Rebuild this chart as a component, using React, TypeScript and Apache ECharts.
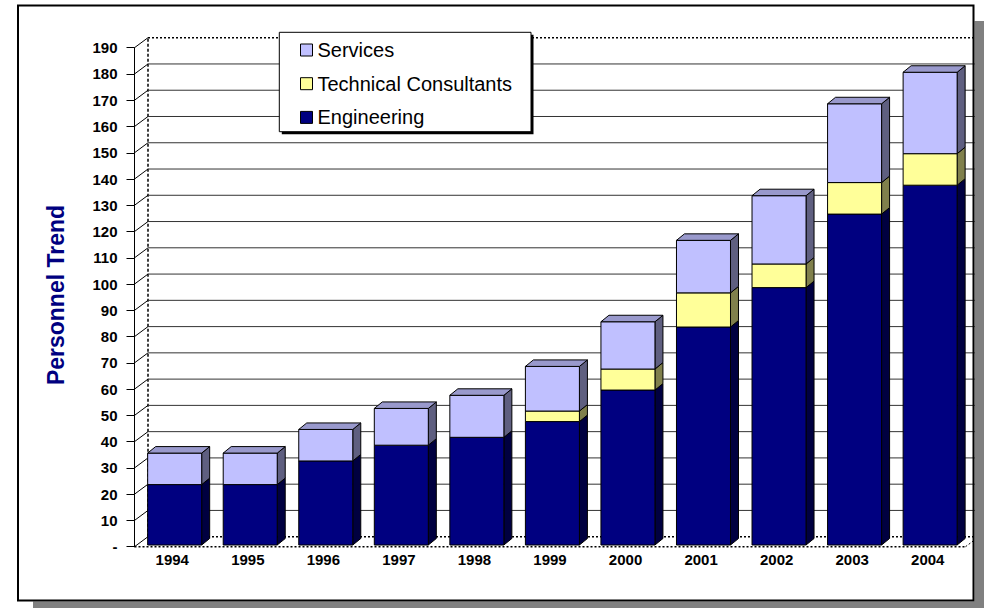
import { useEffect, useRef } from 'react';
import * as echarts from 'echarts';

// Headcount by year, stacked by staff group
const years = ['1994', '1995', '1996', '1997', '1998', '1999', '2000', '2001', '2002', '2003', '2004'];
const engineering = [23, 23, 32, 38, 41, 47, 59, 83, 98, 126, 137];
const technicalConsultants = [0, 0, 0, 0, 0, 4, 8, 13, 9, 12, 12];
const services = [12, 12, 12, 14, 16, 17, 18, 20, 26, 30, 31];
const yTicks = [0, 10, 20, 30, 40, 50, 60, 70, 80, 90, 100, 110, 120, 130, 140, 150, 160, 170, 180, 190];

const FONT = '"Liberation Sans", Arial, Helvetica, sans-serif';

// pseudo-3D geometry (pixels)
const WALL_DX = 13.5;
const WALL_DY = -10;
const FACE_DX = 2.4;
const FACE_DY = -1.7;
const BAR_DX = 8;
const BAR_DY = -6.5;
const BAR_RATIO = 0.715;

type Palette = { front: string; top: string; side: string };
const PAL_ENG: Palette = { front: '#000080', top: '#4D4D99', side: '#000040' };
const PAL_TECH: Palette = { front: '#FFFF99', top: '#C0C073', side: '#80804C' };
const PAL_SERV: Palette = { front: '#C0C0FF', top: '#9999CC', side: '#5F5F80' };

function segments(values: number[], bases: number[], isTop: boolean) {
  const out: number[][] = [];
  values.forEach((v, i) => {
    if (v > 0) out.push([i, bases[i], bases[i] + v, isTop ? 1 : 0]);
  });
  return out;
}

function barRenderer(pal: Palette) {
  return (params: any, api: any) => {
    const idx = api.value(0);
    const lo = api.value(1);
    const hi = api.value(2);
    const isTop = api.value(3) === 1;
    const pLo = api.coord([idx, lo]);
    const pHi = api.coord([idx, hi]);
    const half = (api.size([1, 0])[0] * BAR_RATIO) / 2;
    const cx = pLo[0] + FACE_DX;
    const xl = cx - half;
    const xr = cx + half;
    const yb = pLo[1] + FACE_DY;
    const yt = pHi[1] + FACE_DY;
    const stroke = { stroke: '#000', lineWidth: 1 };
    const children: any[] = [
      {
        type: 'polygon',
        shape: { points: [[xr, yb], [xr + BAR_DX, yb + BAR_DY], [xr + BAR_DX, yt + BAR_DY], [xr, yt]] },
        style: { fill: pal.side, ...stroke },
      },
      {
        type: 'rect',
        shape: { x: xl, y: yt, width: xr - xl, height: yb - yt },
        style: { fill: pal.front, ...stroke },
      },
    ];
    if (isTop) {
      children.push({
        type: 'polygon',
        shape: { points: [[xl, yt], [xl + BAR_DX, yt + BAR_DY], [xr + BAR_DX, yt + BAR_DY], [xr, yt]] },
        style: { fill: pal.top, ...stroke },
      });
    }
    return { type: 'group', children };
  };
}

function wallRenderer(params: any, api: any) {
  const v = api.value(1);
  const cs = params.coordSys;
  const x0 = cs.x;
  const x1 = cs.x + cs.width;
  const y = api.coord([0, v])[1];
  const yb = y + WALL_DY;
  const isEdge = v === yTicks[0] || v === yTicks[yTicks.length - 1];
  const children: any[] = [
    {
      type: 'line',
      shape: { x1: x0, y1: y, x2: x0 + WALL_DX, y2: yb },
      style: { stroke: '#000', lineWidth: 1 },
    },
    {
      type: 'line',
      shape: { x1: x0 + WALL_DX, y1: yb, x2: x1 + WALL_DX, y2: yb },
      style: isEdge
        ? { stroke: '#000', lineWidth: 1.5, lineDash: [2, 2] }
        : { stroke: '#333', lineWidth: 1 },
    },
  ];
  if (v === yTicks[0]) {
    const yTop = api.coord([0, yTicks[yTicks.length - 1]])[1] + WALL_DY;
    // back wall left edge
    children.push({
      type: 'line',
      shape: { x1: x0 + WALL_DX, y1: yb, x2: x0 + WALL_DX, y2: yTop },
      style: { stroke: '#000', lineWidth: 1.5, lineDash: [3, 2] },
    });
    // floor front edge and right edge
    children.push({
      type: 'line',
      shape: { x1: x0, y1: y, x2: x1, y2: y },
      style: { stroke: '#000', lineWidth: 1.5, lineDash: [2, 2] },
    });
    children.push({
      type: 'line',
      shape: { x1: x1, y1: y, x2: x1 + WALL_DX, y2: yb },
      style: { stroke: '#000', lineWidth: 1, lineDash: [2, 2] },
    });
  }
  return { type: 'group', children };
}

export default function App() {
  const ref = useRef<HTMLDivElement>(null);

  useEffect(() => {
    if (!ref.current) return;
    const chart = echarts.init(ref.current, undefined, { renderer: 'svg' });

    const baseTech = engineering.slice();
    const baseServ = engineering.map((e, i) => e + technicalConsultants[i]);

    chart.setOption({
      animation: false,
      backgroundColor: '#fff',
      grid: { left: 134.5, top: 47.7, width: 831, height: 499, containLabel: false },
      xAxis: {
        type: 'category',
        data: years,
        boundaryGap: true,
        axisLine: { show: false },
        axisTick: { show: false },
        axisLabel: { fontFamily: FONT, fontWeight: 'bold', fontSize: 15, color: '#000', margin: 5 },
        splitLine: { show: false },
      },
      yAxis: {
        type: 'value',
        min: 0,
        max: 190,
        interval: 10,
        axisLine: { show: true, lineStyle: { color: '#000', width: 1 } },
        axisTick: { show: true, length: 8, lineStyle: { color: '#000', width: 1 } },
        axisLabel: {
          fontFamily: FONT,
          fontWeight: 'bold',
          fontSize: 15,
          color: '#000',
          margin: 17,
          formatter: (v: number) => (v === 0 ? '-' : String(v)),
        },
        splitLine: { show: false },
      },
      legend: {
        orient: 'vertical',
        left: 300,
        top: 40,
        padding: 0,
        z: 20,
        itemWidth: 12,
        itemHeight: 12,
        itemGap: 13.7,
        selectedMode: false,
        textStyle: { fontFamily: FONT, fontSize: 20, color: '#000', lineHeight: 20 },
        data: [
          { name: 'Services', icon: 'rect', itemStyle: { color: PAL_SERV.front, borderColor: '#000', borderWidth: 1 } },
          { name: 'Technical Consultants', icon: 'rect', itemStyle: { color: PAL_TECH.front, borderColor: '#000', borderWidth: 1 } },
          { name: 'Engineering', icon: 'rect', itemStyle: { color: PAL_ENG.front, borderColor: '#000', borderWidth: 1 } },
        ],
      },
      graphic: {
        elements: [
          { type: 'rect', z: -100, silent: true, shape: { x: 18, y: 5.5, width: 955.5, height: 595 }, style: { fill: '#fff' } },
          { type: 'rect', z: 100, silent: true, shape: { x: 974.5, y: 21, width: 12, height: 590 }, style: { fill: '#808080' } },
          { type: 'rect', z: 100, silent: true, shape: { x: 33, y: 601.5, width: 955, height: 10 }, style: { fill: '#808080' } },
          { type: 'rect', z: 101, silent: true, shape: { x: 18, y: 5.5, width: 955.5, height: 595 }, style: { fill: 'none', stroke: '#000', lineWidth: 2 } },
          { type: 'rect', z: 10, silent: true, shape: { x: 281.8, y: 34.8, width: 251.7, height: 99.4 }, style: { fill: '#000' } },
          { type: 'rect', z: 11, silent: true, shape: { x: 279.3, y: 32.3, width: 251.7, height: 99.4 }, style: { fill: '#fff', stroke: '#000', lineWidth: 1 } },
          {
            type: 'text',
            z: 50,
            silent: true,
            x: 56,
            y: 295,
            rotation: Math.PI / 2,
            style: {
              text: 'Personnel Trend',
              fontFamily: FONT,
              fontWeight: 'bold',
              fontSize: 23,
              fill: '#000080',
              textAlign: 'center',
              textVerticalAlign: 'middle',
            },
          },
        ],
      },
      series: [
        {
          name: 'walls',
          type: 'custom',
          silent: true,
          clip: false,
          z: 1,
          renderItem: wallRenderer,
          encode: { x: 0, y: 1 },
          data: yTicks.map((v) => [0, v]),
        },
        {
          name: 'Engineering',
          type: 'custom',
          clip: false,
          z: 3,
          itemStyle: { color: PAL_ENG.front },
          renderItem: barRenderer(PAL_ENG),
          encode: { x: 0, y: [1, 2] },
          data: segments(engineering, years.map(() => 0), false),
        },
        {
          name: 'Technical Consultants',
          type: 'custom',
          clip: false,
          z: 3,
          itemStyle: { color: PAL_TECH.front },
          renderItem: barRenderer(PAL_TECH),
          encode: { x: 0, y: [1, 2] },
          data: segments(technicalConsultants, baseTech, false),
        },
        {
          name: 'Services',
          type: 'custom',
          clip: false,
          z: 3,
          itemStyle: { color: PAL_SERV.front },
          renderItem: barRenderer(PAL_SERV),
          encode: { x: 0, y: [1, 2] },
          data: segments(services, baseServ, true),
        },
      ],
    });

    return () => chart.dispose();
  }, []);

  return (
    <div
      ref={ref}
      style={{ position: 'absolute', left: 0, top: 0, width: 984, height: 608 }}
    />
  );
}
